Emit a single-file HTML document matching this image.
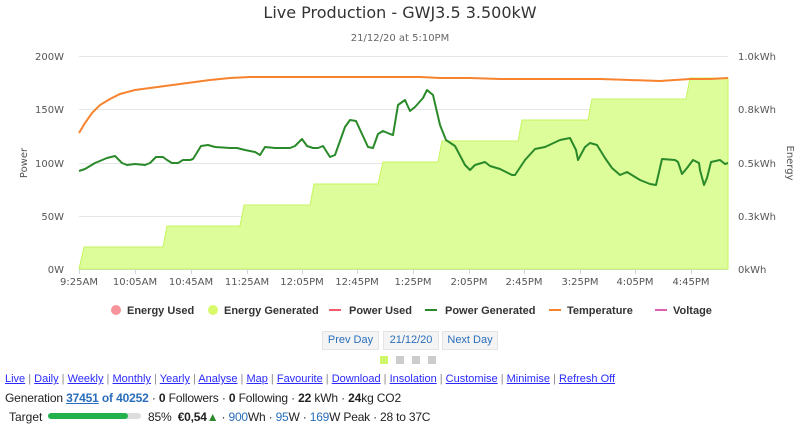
<!DOCTYPE html>
<html><head><meta charset="utf-8"><style>
body{margin:0;width:800px;height:431px;background:#fff;font-family:"DejaVu Sans","Liberation Sans",sans-serif;overflow:hidden;position:relative}
svg{position:absolute;left:0;top:0}
.t{font-size:10px;fill:#555}
.bt{position:absolute;font-family:"Liberation Sans",sans-serif;font-size:12px;white-space:nowrap}
a{color:#2a2aff;text-decoration:underline}
.nav{position:absolute;top:331px;height:17px;background:#f4f4f4;border:1px solid #e4e4e4;color:#2a6ebb;font-size:11px;font-family:"Liberation Sans",sans-serif;line-height:17px;text-align:center}
</style></head><body>
<svg width="800" height="431">
<text x="400" y="18" text-anchor="middle" font-size="16" fill="#333">Live Production - GWJ3.5 3.500kW</text>
<text x="400" y="41" text-anchor="middle" font-size="10" fill="#666">21/12/20 at 5:10PM</text>
<g stroke="#e6e6e6" stroke-width="1">
<line x1="79" x2="728" y1="56.5" y2="56.5"/><line x1="79" x2="728" y1="109.5" y2="109.5"/><line x1="79" x2="728" y1="163.5" y2="163.5"/><line x1="79" x2="728" y1="216.5" y2="216.5"/>
</g>
<line x1="79" x2="728" y1="269.5" y2="269.5" stroke="#ccd6eb"/>
<g class="t" text-anchor="end">
<text x="64" y="60">200W</text><text x="64" y="113">150W</text><text x="64" y="167">100W</text><text x="64" y="220">50W</text><text x="64" y="273">0W</text>
</g>
<g class="t">
<text x="738" y="60">1.0kWh</text><text x="738" y="113">0.8kWh</text><text x="738" y="167">0.5kWh</text><text x="738" y="220">0.3kWh</text><text x="738" y="273">0kWh</text>
</g>
<text class="t" transform="translate(27,163) rotate(-90)" text-anchor="middle">Power</text>
<text class="t" transform="translate(787,163) rotate(90)" text-anchor="middle" fill="#888">Energy</text>
<g stroke="#ccd6eb"><line x1="79.5" x2="79.5" y1="269" y2="274"/><line x1="135.5" x2="135.5" y1="269" y2="274"/><line x1="191.5" x2="191.5" y1="269" y2="274"/><line x1="247.5" x2="247.5" y1="269" y2="274"/><line x1="302.5" x2="302.5" y1="269" y2="274"/><line x1="357.5" x2="357.5" y1="269" y2="274"/><line x1="413.5" x2="413.5" y1="269" y2="274"/><line x1="469.5" x2="469.5" y1="269" y2="274"/><line x1="524.5" x2="524.5" y1="269" y2="274"/><line x1="580.5" x2="580.5" y1="269" y2="274"/><line x1="635.5" x2="635.5" y1="269" y2="274"/><line x1="691.5" x2="691.5" y1="269" y2="274"/></g>
<g class="t" text-anchor="middle">
<text x="79" y="285">9:25AM</text><text x="135" y="285">10:05AM</text><text x="191" y="285">10:45AM</text><text x="247" y="285">11:25AM</text><text x="302" y="285">12:05PM</text><text x="357" y="285">12:45PM</text><text x="413" y="285">1:25PM</text><text x="469" y="285">2:05PM</text><text x="524" y="285">2:45PM</text><text x="580" y="285">3:25PM</text><text x="635" y="285">4:05PM</text><text x="691" y="285">4:45PM</text>
</g>
<path d="M79,269 L84,247 L163,247 L167,226 L240,226 L244,205 L310,205 L314,184 L378,184 L383,162 L438,162 L442,141 L518,141 L522,120 L588,120 L592,99 L686,99 L690,78 L728,78 L728,269 Z" fill="#ddfd9a" stroke="#c6f560" stroke-width="1"/>
<polyline fill="none" stroke="#f7832f" stroke-width="2" points="79,133 85,123 92,113 100,105 110,99 120,94 135,90 150,88 165,86 180,84 195,82 210,80 230,78 250,77 300,77 340,77 380,77 420,77 440,78 470,78 500,79 560,79 600,79 630,80 660,81 690,79 710,79 728,78"/>
<polyline fill="none" stroke="#2a8a2a" stroke-width="2" stroke-linejoin="round" points="79,171 85,169 95,163 107,158 115,156 122,163 127,165 135,164 145,165 150,163 156,157 163,157 167,160 172,163 178,163 183,160 190,160 193,159 201,146 208,145 215,147 230,148 237,148 245,150 255,152 260,155 265,147 275,148 290,148 295,146 302,139 307,146 313,148 318,148 323,146 330,157 335,155 345,127 350,120 356,121 362,134 368,147 373,148 378,134 383,131 390,134 393,135 398,105 405,100 410,111 415,107 423,98 427,90 433,95 440,125 446,140 455,146 465,165 470,170 475,165 485,162 490,166 500,169 512,175 515,175 525,160 535,149 545,147 560,140 570,138 576,150 578,160 585,147 590,143 597,145 605,158 612,168 620,175 627,172 640,180 650,184 656,185 662,159 675,160 678,162 682,174 687,168 693,160 699,163 700,170 704,185 707,178 711,162 720,160 725,164 728,163"/>
<g font-size="11" fill="#333" font-weight="bold" font-family="Liberation Sans,sans-serif">
<circle cx="116" cy="310" r="5" fill="#f7939a"/><text x="127" y="314">Energy Used</text>
<circle cx="213" cy="310" r="5" fill="#d8fa6a"/><text x="224" y="314">Energy Generated</text>
<line x1="329" x2="341" y1="310" y2="310" stroke="#f45b6a" stroke-width="2"/><text x="349" y="314">Power Used</text>
<line x1="425" x2="437" y1="310" y2="310" stroke="#2a8a2a" stroke-width="2"/><text x="445" y="314">Power Generated</text>
<line x1="549" x2="561" y1="310" y2="310" stroke="#f7832f" stroke-width="2"/><text x="567" y="314">Temperature</text>
<line x1="655" x2="667" y1="310" y2="310" stroke="#e060b0" stroke-width="2"/><text x="673" y="314">Voltage</text>
</g>
<rect x="380" y="356" width="8" height="8" fill="#ccf56a"/><rect x="396" y="356" width="8" height="8" fill="#ccc"/><rect x="412" y="356" width="8" height="8" fill="#ccc"/><rect x="428" y="356" width="8" height="8" fill="#ccc"/>
<rect x="96" y="413" width="45" height="6" rx="3" fill="#ddd"/><rect x="48" y="413" width="80" height="6" rx="3" fill="#22b14c"/>
</svg>
<div class="nav" style="left:322px;width:55px">Prev Day</div>
<div class="nav" style="left:383px;width:54px">21/12/20</div>
<div class="nav" style="left:442px;width:54px">Next Day</div>
<div class="bt" style="left:5px;top:373px;color:#888;font-size:11px"><a>Live</a> | <a>Daily</a> | <a>Weekly</a> | <a>Monthly</a> | <a>Yearly</a> | <a>Analyse</a> | <a>Map</a> | <a>Favourite</a> | <a>Download</a> | <a>Insolation</a> | <a>Customise</a> | <a>Minimise</a> | <a>Refresh Off</a></div>
<div class="bt" style="left:5px;top:391px;color:#222;letter-spacing:-0.15px">Generation <b style="color:#2a6ebb"><u>37451</u> of 40252</b> · <b>0</b> Followers · <b>0</b> Following · <b>22</b> kWh · <b>24</b>kg CO2</div>
<div class="bt" style="left:9px;top:410px;color:#222">Target<span style="position:absolute;left:139px;white-space:nowrap;letter-spacing:-0.2px">85% &nbsp;<b>€0,54</b><span style="color:#2a8a2a">▲</span> · <span style="color:#2a6ebb">900</span>Wh · <span style="color:#2a6ebb">95</span>W · <span style="color:#2a6ebb">169</span>W Peak · 28 to 37C</span></div>
</body></html>
